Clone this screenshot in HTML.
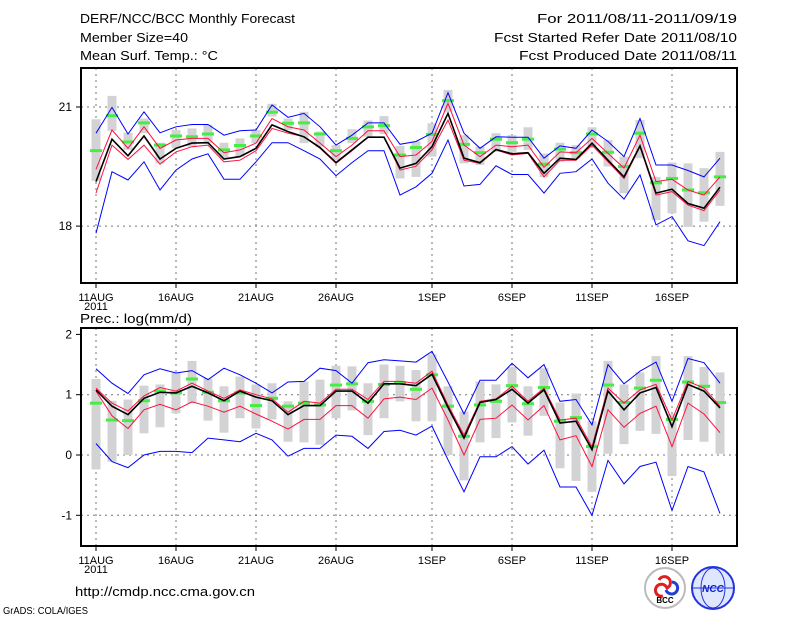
<!DOCTYPE html>
<html><head><meta charset="utf-8"><style>
body{margin:0;background:#fff;width:800px;height:618px;overflow:hidden}
svg text{font-family:"Liberation Sans",sans-serif;fill:#000}
</style></head><body>
<svg id="c" width="800" height="618" xmlns="http://www.w3.org/2000/svg">
<g font-size="13">
<text x="80" y="23" textLength="215" lengthAdjust="spacingAndGlyphs">DERF/NCC/BCC Monthly Forecast</text>
<text x="80" y="42" textLength="108" lengthAdjust="spacingAndGlyphs">Member Size=40</text>
<text x="80" y="60" textLength="138" lengthAdjust="spacingAndGlyphs">Mean Surf. Temp.: °C</text>
<text x="737" y="23" text-anchor="end" textLength="200" lengthAdjust="spacingAndGlyphs">For 2011/08/11-2011/09/19</text>
<text x="737" y="42" text-anchor="end" textLength="243" lengthAdjust="spacingAndGlyphs">Fcst Started Refer Date 2011/08/10</text>
<text x="737" y="60" text-anchor="end" textLength="218" lengthAdjust="spacingAndGlyphs">Fcst Produced Date 2011/08/11</text>
<text x="80" y="323" textLength="112" lengthAdjust="spacingAndGlyphs">Prec.: log(mm/d)</text>
<text x="75" y="596" textLength="180" lengthAdjust="spacingAndGlyphs">http://cmdp.ncc.cma.gov.cn</text>
</g>
<text x="3" y="614" font-size="10" textLength="85" lengthAdjust="spacingAndGlyphs">GrADS: COLA/IGES</text>
<g>
<circle cx="665" cy="588" r="20" fill="#fff" stroke="#bbb" stroke-width="2"/>
<path d="M659 580 a6 6 0 1 1 8 8 a6 6 0 1 0 -4 8" fill="none" stroke="#e02020" stroke-width="3"/>
<path d="M672 582 a6 6 0 1 1 -6 8" fill="none" stroke="#2040d0" stroke-width="3"/>
<text x="665" y="603" font-size="8" text-anchor="middle" font-weight="bold">BCC</text>
</g>
<g>
<circle cx="713" cy="588" r="21" fill="#dfe6ff" stroke="#2233dd" stroke-width="2"/>
<ellipse cx="713" cy="588" rx="12" ry="20" fill="none" stroke="#2233dd"/>
<line x1="693" y1="588" x2="733" y2="588" stroke="#2233dd"/>
<text x="713" y="592" font-size="10" text-anchor="middle" font-style="italic" font-weight="bold" style="fill:#1122cc">NCC</text>
</g>
</svg>
<script>
// ---- Temperature panel data (°C) ----
const days = ["11AUG","12","13","14","15","16AUG","17","18","19","20","21AUG","22","23","24","25","26AUG","27","28","29","30","31","1SEP","2","3","4","5","6SEP","7","8","9","10","11SEP","12","13","14","15","16SEP","17","18","19"];
const tickIdx = [0,5,10,15,21,26,31,36];
const tickLabels = ["11AUG","16AUG","21AUG","26AUG","1SEP","6SEP","11SEP","16SEP"];
const tMean = [19.12,20.19,19.77,20.27,19.69,19.96,20.09,20.10,19.69,19.75,19.96,20.55,20.38,20.25,19.98,19.60,19.92,20.24,20.24,19.46,19.58,20.0,20.84,19.71,19.60,19.93,19.82,19.85,19.33,19.71,19.68,20.09,19.66,19.24,20.02,18.83,18.93,18.57,18.45,18.98];
const tRedHi = [19.43,20.42,19.96,20.5,19.96,20.17,20.21,20.21,19.85,19.92,20.09,20.71,20.5,20.42,20.09,19.75,20.04,20.4,20.4,19.75,19.79,20.13,21.09,20.04,19.75,20.04,20.0,20.04,19.48,19.87,19.85,20.21,19.83,19.46,20.29,19.12,19.18,18.91,18.78,19.24];
const tRedLo = [18.83,20.04,19.68,20.04,19.56,19.87,20.0,20.04,19.62,19.66,19.90,20.46,20.34,20.25,19.96,19.58,19.9,20.24,20.24,19.41,19.51,19.92,20.67,19.66,19.58,19.92,19.79,19.83,19.24,19.66,19.66,20.04,19.62,19.2,20.0,18.78,18.87,18.53,18.39,18.91];
const tBlueHi = [20.34,20.99,20.32,20.88,20.35,20.5,20.56,20.56,20.29,20.4,20.42,21.05,20.74,20.84,20.5,20.04,20.29,20.6,20.6,20.06,20.13,20.34,21.36,20.34,19.96,20.25,20.24,20.24,19.71,20.02,19.96,20.42,20.13,19.75,20.71,19.54,19.54,19.4,19.24,19.71];
const tBlueLo = [17.82,19.37,19.16,19.62,18.91,19.41,19.69,19.82,19.18,19.18,19.62,20.1,20.1,19.9,19.69,19.27,19.6,19.9,19.9,18.78,18.99,19.33,20.17,19.01,19.05,19.52,19.3,19.3,18.83,19.33,19.37,19.69,19.08,18.68,19.29,18.03,18.24,17.63,17.51,18.11];
const tObs = [19.9,20.78,20.12,20.6,20.04,20.27,20.25,20.32,19.92,20.03,20.27,20.87,20.59,20.6,20.32,19.9,20.21,20.5,20.53,19.79,19.98,20.31,21.16,20.06,19.85,20.19,20.1,20.19,19.56,19.94,19.85,20.32,19.86,19.5,20.34,19.09,19.2,18.91,18.84,19.24];
const tBarHi = [20.69,21.28,20.35,20.71,20.1,20.42,20.46,20.55,20.1,20.21,20.42,21.08,20.71,20.88,20.38,20.04,20.44,20.66,20.77,20.02,20.13,20.59,21.43,20.29,20.0,20.34,20.29,20.49,19.83,20.1,20.04,20.49,20.17,19.75,20.67,19.24,19.6,19.58,19.46,19.87];
const tBarLo = [19.14,20.4,19.92,20.34,19.58,19.96,20.0,20.09,19.71,19.75,20.09,20.76,20.42,20.09,20.0,19.66,20.09,20.25,20.32,19.2,19.24,19.75,20.88,19.58,19.54,19.87,19.87,19.92,19.23,19.62,19.71,20.02,19.5,18.83,19.71,18.15,18.32,17.98,18.11,18.51];
const tTicks = [18,21];
// ---- Precipitation panel data (log mm/d) ----
const pMean = [1.08,0.81,0.67,0.94,1.04,1.03,1.14,1.03,0.9,1.06,0.96,0.9,0.67,0.82,0.82,1.06,1.06,0.86,1.18,1.18,1.15,1.34,0.79,0.28,0.87,0.92,1.09,0.86,1.08,0.53,0.56,0.09,1.06,0.75,1.03,1.12,0.47,1.17,1.06,0.78];
const pRedHi = [1.11,0.86,0.73,0.98,1.12,1.06,1.19,1.06,0.94,1.08,1.0,0.93,0.71,0.89,0.86,1.09,1.09,0.92,1.22,1.22,1.19,1.39,0.83,0.33,0.89,0.93,1.14,0.89,1.11,0.58,0.61,0.14,1.11,0.86,1.08,1.17,0.58,1.22,1.11,0.81];
const pRedLo = [1.06,0.65,0.44,0.75,0.84,0.75,0.88,0.81,0.71,0.81,0.68,0.56,0.43,0.59,0.59,0.82,0.82,0.61,0.93,0.96,0.92,1.11,0.58,0.0,0.59,0.61,0.83,0.58,0.82,0.25,0.32,-0.19,0.75,0.46,0.69,0.81,0.14,0.86,0.68,0.37];
const pBlueHi = [1.43,1.19,1.02,1.33,1.43,1.36,1.4,1.25,1.44,1.33,1.19,1.03,1.21,1.22,1.44,1.4,1.19,1.53,1.58,1.56,1.54,1.72,1.21,0.68,1.24,1.24,1.52,1.28,1.5,0.89,0.92,0.5,1.5,1.18,1.39,1.54,0.89,1.6,1.53,1.19];
const pBlueLo = [0.19,-0.11,-0.21,0.0,0.06,0.06,0.04,0.28,0.25,0.22,0.36,0.25,-0.02,0.11,0.11,0.33,0.31,0.11,0.39,0.41,0.33,0.48,-0.08,-0.61,-0.03,-0.03,0.14,-0.15,0.08,-0.53,-0.53,-1.0,-0.09,-0.48,-0.19,-0.12,-0.92,-0.19,-0.28,-0.97];
const pObs = [0.86,0.58,0.57,0.9,1.06,1.03,1.26,1.04,0.9,1.03,0.82,0.94,0.81,0.86,0.83,1.16,1.18,0.89,1.17,1.2,1.09,1.33,0.81,0.31,0.83,0.89,1.15,0.85,1.12,0.56,0.62,0.14,1.16,0.87,1.11,1.24,0.59,1.21,1.14,0.87];
const pBarHi = [1.26,0.9,0.92,1.15,1.17,1.36,1.56,1.27,1.14,1.3,1.17,1.19,0.89,1.22,1.25,1.48,1.47,1.19,1.5,1.48,1.41,1.67,1.14,0.72,1.22,1.17,1.46,1.14,1.44,0.87,1.02,0.56,1.56,1.17,1.37,1.64,0.68,1.64,1.46,1.37];
const pBarLo = [-0.24,-0.11,0.0,0.36,0.46,0.69,0.86,0.57,0.37,0.61,0.44,0.59,0.22,0.21,0.17,0.61,0.74,0.33,0.61,0.89,0.56,0.56,0.0,-0.42,0.21,0.28,0.54,0.32,0.65,-0.22,-0.43,-0.61,0.02,0.18,0.4,0.35,-0.35,0.25,0.22,0.02];
const pTicks = [-1,0,1,2];

const svg = document.getElementById('c');
const NS = 'http://www.w3.org/2000/svg';
function mk(tag, attrs, parent){const e=document.createElementNS(NS,tag);for(const k in attrs)e.setAttribute(k,attrs[k]);(parent||svg).appendChild(e);return e;}
const xS = i => 96 + 16*i;

function panel(name, top, bottom, yS, ticks, gridVals, mean, redHi, redLo, blueHi, blueLo, obs, barHi, barLo){
  const g = mk('g',{});
  
  
  tickIdx.forEach(i=>{const l=mk('line',{x1:xS(i),x2:xS(i),y1:top,y2:bottom,stroke:'#777','stroke-dasharray':'2,4'},g);
    
    });
  gridVals.forEach(v=>{const l=mk('line',{x1:81,x2:737,y1:yS(v),y2:yS(v),stroke:'#777','stroke-dasharray':'2,4'},g);
    
    });
  barHi.forEach((h,i)=>{const r=mk('rect',{x:xS(i)-4.5,y:yS(h),width:9,height:Math.max(1,yS(barLo[i])-yS(h)),fill:'#d3d3d6'},g);
    
    });
  obs.forEach((v,i)=>{const r=mk('rect',{x:xS(i)-6,y:yS(v)-1.5,width:12,height:3,fill:'#44ee44'},g);
    
    });
  const line=(arr,col,w,nm)=>{const p=mk('polyline',{points:arr.map((v,i)=>xS(i)+','+yS(v).toFixed(1)).join(' '),fill:'none',stroke:col,'stroke-width':w},g);
    
    };
  line(blueHi,'#0000ff',1,'blue-upper-line');
  line(blueLo,'#0000ff',1,'blue-lower-line');
  line(redHi,'#ff1040',1,'red-upper-line');
  line(redLo,'#ff1040',1,'red-lower-line');
  line(mean,'#000',1.6,'ensemble-mean-line');
  const f=mk('rect',{x:81,y:top,width:656,height:bottom-top,fill:'none',stroke:'#000','stroke-width':2},g);
  
  
  ticks.forEach(v=>{mk('line',{x1:76,x2:81,y1:yS(v),y2:yS(v),stroke:'#000'},g);
    const t=mk('text',{x:72,y:yS(v)+4,'text-anchor':'end','font-size':12},g);t.textContent=v;
    
    });
  tickIdx.forEach((d,k)=>{mk('line',{x1:xS(d),x2:xS(d),y1:bottom,y2:bottom+5,stroke:'#000'},g);
    const t=mk('text',{x:xS(d),y:bottom+18,'text-anchor':'middle','font-size':11},g);t.textContent=tickLabels[k];
    
    });
  const yr=mk('text',{x:96,y:bottom+27,'text-anchor':'middle','font-size':11},g);yr.textContent='2011';
  
  
}
const yT = v => 107 + (21-v)*39.7;
const yP = v => 455 - v*60.3;
panel('temperature-panel',68,283,yT,tTicks,[18,21],tMean,tRedHi,tRedLo,tBlueHi,tBlueLo,tObs,tBarHi,tBarLo);
panel('precipitation-panel',328,546,yP,pTicks,[-1,0,1],pMean,pRedHi,pRedLo,pBlueHi,pBlueLo,pObs,pBarHi,pBarLo);
</script>
</body></html>
